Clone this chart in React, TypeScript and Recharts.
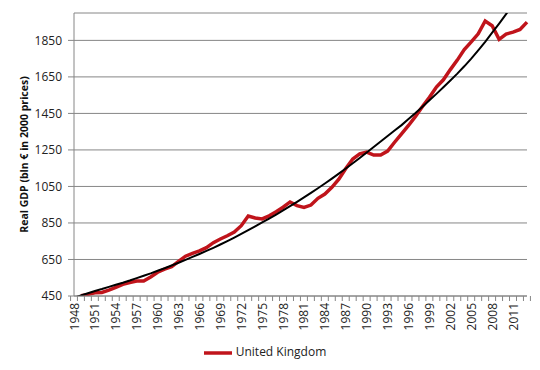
import { LineChart, Line, XAxis, YAxis, CartesianGrid, Legend } from 'recharts'

const years = [
  1948, 1949, 1950, 1951, 1952, 1953, 1954, 1955, 1956, 1957, 1958, 1959,
  1960, 1961, 1962, 1963, 1964, 1965, 1966, 1967, 1968, 1969, 1970, 1971,
  1972, 1973, 1974, 1975, 1976, 1977, 1978, 1979, 1980, 1981, 1982, 1983,
  1984, 1985, 1986, 1987, 1988, 1989, 1990, 1991, 1992, 1993, 1994, 1995,
  1996, 1997, 1998, 1999, 2000, 2001, 2002, 2003, 2004, 2005, 2006, 2007,
  2008, 2009, 2010, 2011, 2012, 2013,
]

// real GDP, bln € in 2000 prices (no value for 1948)
const ukGdp = [
  null, 452, 459, 468, 469, 482, 497, 514, 524, 532, 532, 554,
  580, 597, 610, 640, 668, 684, 697, 715, 742, 762, 780, 800,
  835, 888, 877, 872, 889, 911, 936, 965, 945, 935, 948, 985,
  1008, 1045, 1090, 1148, 1200, 1228, 1238, 1222, 1222, 1244, 1292, 1338,
  1384, 1434, 1488, 1538, 1594, 1634, 1690, 1742, 1800, 1842, 1886, 1956,
  1930, 1856, 1885, 1895, 1910, 1950,
]

// fitted trend line (runs off the top after 2010)
const ukTrend = [
  440, 453, 465, 477, 488, 500, 512, 523, 535, 548, 561, 574,
  588, 602, 617, 632, 648, 664, 680, 697, 714, 732, 751, 770,
  790, 811, 832, 853, 874, 896, 919, 942, 966, 990, 1015, 1040,
  1066, 1093, 1120, 1148, 1177, 1206, 1236, 1266, 1296, 1326, 1356, 1386,
  1419, 1452, 1487, 1522, 1557, 1593, 1630, 1668, 1708, 1750, 1795, 1842,
  1892, 1942, 1994, 2048, null, null,
]

const yTicks = [450, 650, 850, 1050, 1250, 1450, 1650, 1850]

const data = years.map((year, i) => ({
  year,
  gdp: ukGdp[i],
  trend: ukTrend[i],
}))

const WIDTH = 540
const HEIGHT = 370
const LEFT = 74
const RIGHT = 13
const AXIS = '#868686'
const FONT = '"Open Sans", sans-serif'
const band = (WIDTH - LEFT - RIGHT) / years.length

function YearTick({ x, y, payload, index }: any) {
  const half = band / 2
  return (
    <g transform={`translate(${x},${y})`}>
      {index === 0 && (
        <line x1={-half} y1={0} x2={-half} y2={5} stroke={AXIS} />
      )}
      <line x1={half} y1={0} x2={half} y2={5} stroke={AXIS} />
      {index % 3 === 0 && (
        <text
          transform="rotate(-90)"
          x={-7}
          y={4.5}
          textAnchor="end"
          fontSize={12}
          fontFamily={FONT}
          fill="#222"
        >
          {payload.value}
        </text>
      )}
    </g>
  )
}

function YLabel({ viewBox }: any) {
  const cx = viewBox.x + 24
  const cy = viewBox.y + viewBox.height / 2
  return (
    <text
      transform={`translate(${cx},${cy}) rotate(-90)`}
      textAnchor="middle"
      dominantBaseline="central"
      fontSize={10.5}
      fontWeight="bold"
      fontFamily={FONT}
      fill="#111"
    >
      Real GDP (bln € in 2000 prices)
    </text>
  )
}

export default function App() {
  return (
    <div style={{ position: 'absolute', left: 0, top: 0, background: '#fff' }}>
      <LineChart
        width={WIDTH}
        height={HEIGHT}
        data={data}
        margin={{ top: 13, right: RIGHT, left: 0, bottom: 3 }}
      >
        <CartesianGrid vertical={false} stroke={AXIS} />
        <XAxis
          dataKey="year"
          interval={0}
          tickLine={false}
          tickSize={0}
          tickMargin={0}
          height={43}
          axisLine={{ stroke: AXIS }}
          tick={<YearTick />}
        />
        <YAxis
          width={LEFT}
          domain={[450, 2000]}
          ticks={yTicks}
          allowDataOverflow
          tickSize={6}
          tickMargin={6}
          axisLine={{ stroke: AXIS }}
          tickLine={{ stroke: AXIS }}
          tick={{ fontSize: 12, fontFamily: FONT, fill: '#222' }}
          label={(props: any) => <YLabel {...props} />}
        />
        <Legend
          verticalAlign="bottom"
          iconSize={28}
          wrapperStyle={{ left: 0, width: WIDTH, fontSize: 12, fontFamily: FONT }}
          formatter={(value) => <span style={{ color: '#222' }}>{value}</span>}
        />
        <Line
          dataKey="gdp"
          name="United Kingdom"
          stroke="#C0141B"
          strokeWidth={3.5}
          dot={false}
          legendType="plainline"
          isAnimationActive={false}
        />
        <Line
          dataKey="trend"
          stroke="#000"
          strokeWidth={2}
          dot={false}
          legendType="none"
          isAnimationActive={false}
        />
      </LineChart>
    </div>
  )
}
